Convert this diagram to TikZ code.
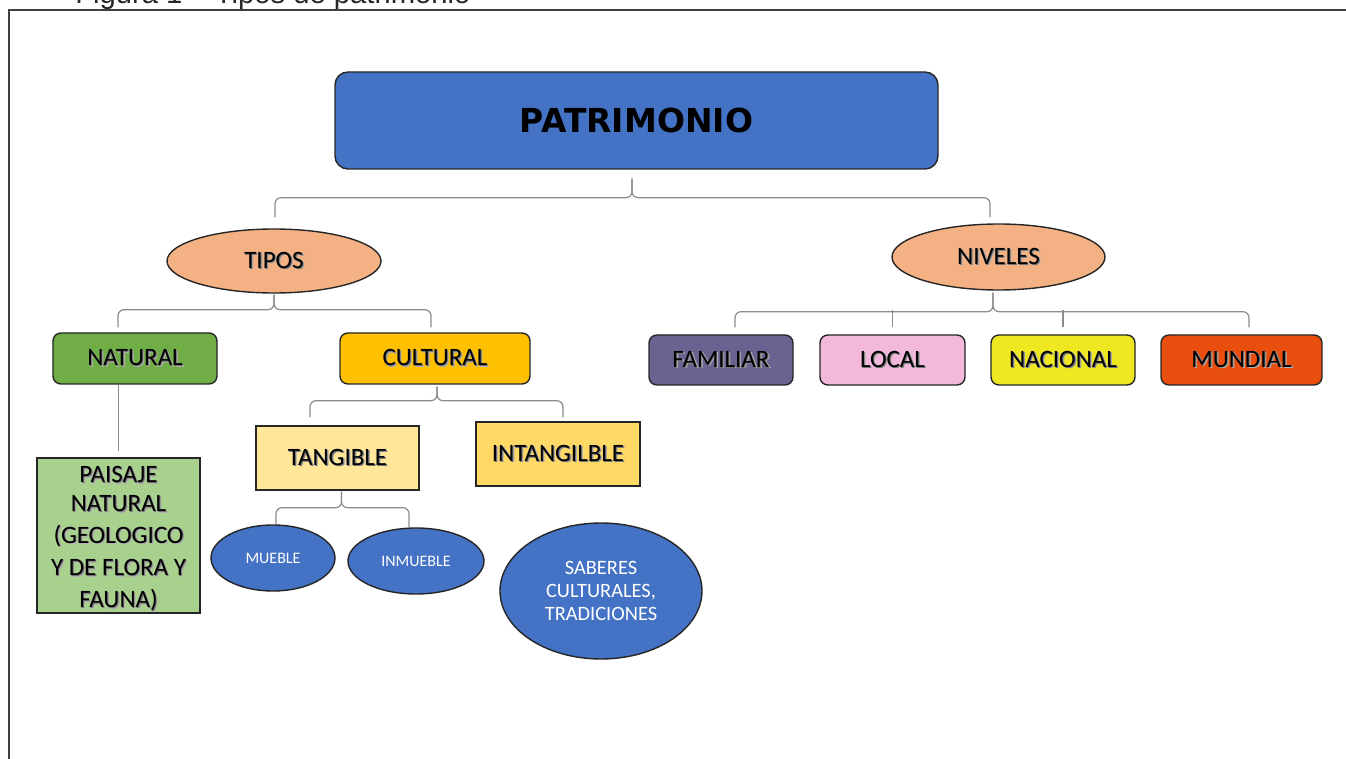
\documentclass[tikz,border=0pt]{standalone}
\usepackage{fontspec}
\setmainfont{Carlito}
\newfontfamily\titulofont{DejaVu Sans}
\newfontfamily\piefont{Liberation Sans}
\usepackage{tikz}
\usetikzlibrary{shapes}
\definecolor{azul}{HTML}{4472C4}
\definecolor{salmon}{HTML}{F4B183}
\definecolor{verde}{HTML}{70AD47}
\definecolor{verdeclaro}{HTML}{A9D18E}
\definecolor{naranja}{HTML}{FFC000}
\definecolor{amarillo1}{HTML}{FFE699}
\definecolor{amarillo2}{HTML}{FFD966}
\definecolor{morado}{HTML}{6A6391}
\definecolor{rosa}{HTML}{F2B9DC}
\definecolor{limon}{HTML}{EEE722}
\definecolor{rojizo}{HTML}{E84E0E}
\definecolor{borde}{HTML}{262626}
\definecolor{gris}{HTML}{8C8C8C}
\newcommand{\etiq}{\fontsize{12.5}{15.5}\selectfont}
\newcommand{\chica}{\fontsize{8}{10}\selectfont}
\newcommand{\media}{\fontsize{10.2}{11.5}\selectfont}
\newcommand{\sombra}[1]{\rlap{\kern0.9pt\raisebox{-0.9pt}{\textcolor{black!30}{#1}}}\rlap{\kern0.45pt\raisebox{-0.45pt}{\textcolor{black!55}{#1}}}#1}
\tikzstyle{caja}=[rectangle,rounded corners=4pt,draw=borde,line width=0.7pt,inner sep=0pt,font=\etiq]
\tikzstyle{cuadro}=[rectangle,draw=borde,line width=0.7pt,inner sep=0pt,font=\etiq,align=center]
\tikzstyle{elipse}=[ellipse,draw=borde,line width=0.7pt,inner sep=0pt]
\tikzstyle{llave}=[draw=gris,line width=0.6pt,rounded corners=3pt]
\tikzstyle{marco}=[draw=black!75,line width=0.8pt]

\begin{document}
\begin{tikzpicture}[x=0.5pt,y=-0.5pt]
    \useasboundingbox (0,0) rectangle (1346,759);
    \node[anchor=base west,inner sep=0pt,text=black!85,font=\piefont\fontsize{14.6}{17}\selectfont] at (75,4) (pie) {Figura 1 – Tipos de patrimonio};
    \draw[marco] (9,759) -- (9,10) -- (1346,10);
    \node[caja,rounded corners=6.5pt,fill=azul,minimum width=301.5pt,minimum height=48.5pt,font=\titulofont\bfseries\fontsize{16.5}{20}\selectfont] at (636.5,120.5) (patrimonio) {PATRIMONIO};
    \node[elipse,fill=salmon,minimum width=107pt,minimum height=32pt,font=\etiq] at (274,261) (tipos) {\sombra{TIPOS}};
    \node[elipse,fill=salmon,minimum width=106.5pt,minimum height=33pt,font=\etiq] at (998.5,257) (niveles) {\sombra{NIVELES}};
    \node[caja,fill=verde,minimum width=82pt,minimum height=25.5pt] at (135,358.5) (natural) {\sombra{NATURAL}};
    \node[caja,fill=naranja,minimum width=95pt,minimum height=25.5pt] at (435,358.5) (cultural) {\sombra{CULTURAL}};
    \node[cuadro,fill=verdeclaro,minimum width=81.5pt,minimum height=77.5pt,text depth=0pt] at (118.5,535.5) (paisaje) {\raisebox{-1.2pt}{\shortstack{\sombra{PAISAJE}\\[2.6pt]\sombra{NATURAL}\\[2.6pt]\sombra{(GEOLOGICO}\\[2.6pt]\sombra{Y DE FLORA Y}\\[2.6pt]\sombra{FAUNA)}}}};
    \node[cuadro,fill=amarillo1,minimum width=81.5pt,minimum height=32pt] at (337.5,458) (tangible) {\sombra{TANGIBLE}};
    \node[cuadro,fill=amarillo2,minimum width=82pt,minimum height=32pt] at (558,454) (intangible) {\sombra{INTANGILBLE}};
    \node[elipse,fill=azul,text=white,font=\chica,minimum width=62pt,minimum height=33pt] at (273,558) (mueble) {MUEBLE};
    \node[elipse,fill=azul,text=white,font=\chica,minimum width=68pt,minimum height=33pt] at (416,561) (inmueble) {INMUEBLE};
    \node[elipse,fill=azul,text=white,font=\media,align=center,minimum width=101pt,minimum height=68pt] at (601,591) (saberes) {SABERES\\CULTURALES,\\TRADICIONES};
    \node[caja,fill=morado,minimum width=72pt,minimum height=25pt] at (721,360) (familiar) {\sombra{FAMILIAR}};
    \node[caja,fill=rosa,minimum width=72.5pt,minimum height=25pt] at (892.5,360) (local) {\sombra{LOCAL}};
    \node[caja,fill=limon,minimum width=72pt,minimum height=25pt] at (1063,360) (nacional) {\sombra{NACIONAL}};
    \node[caja,fill=rojizo,minimum width=80.5pt,minimum height=25pt] at (1241.5,360) (mundial) {\sombra{MUNDIAL}};
    % llaves
    \draw[llave] ([xshift=0.5pt,yshift=5.5pt]tipos.north) |- ([xshift=-2.25pt,yshift=-14pt]patrimonio.south) -- ([xshift=-2.25pt,yshift=-4.5pt]patrimonio.south);
    \draw[llave] ([xshift=-4.25pt,yshift=3pt]niveles.north) |- ([xshift=-2.25pt,yshift=-14pt]patrimonio.south) -- ([xshift=-2.25pt,yshift=-4.5pt]patrimonio.south);
    \draw[llave] ([xshift=-8.5pt,yshift=2.5pt]natural.north) |- ([yshift=-8pt]tipos.south) -- ([yshift=-0.5pt]tipos.south);
    \draw[llave] ([xshift=-2pt,yshift=2.5pt]cultural.north) |- ([yshift=-8pt]tipos.south) -- ([yshift=-0.5pt]tipos.south);
    \draw[llave] ([xshift=-13.75pt,yshift=4pt]tangible.north) |- ([xshift=1pt,yshift=-8pt]cultural.south) -- ([xshift=1pt,yshift=-1pt]cultural.south);
    \draw[llave] ([xshift=2.5pt,yshift=2pt]intangible.north) |- ([xshift=1pt,yshift=-8pt]cultural.south) -- ([xshift=1pt,yshift=-1pt]cultural.south);
    \draw[llave] ([xshift=1.5pt]mueble.north) |- ([xshift=2pt,yshift=-8.5pt]tangible.south) -- ([xshift=2pt,yshift=-0.5pt]tangible.south);
    \draw[llave] ([xshift=-3.5pt]inmueble.north) |- ([xshift=2pt,yshift=-8.5pt]tangible.south) -- ([xshift=2pt,yshift=-0.5pt]tangible.south);
    \draw[llave] ([xshift=7pt,yshift=3.5pt]familiar.north) |- ([xshift=-2.75pt,yshift=-10.5pt]niveles.south) -- ([xshift=-2.75pt,yshift=-1pt]niveles.south);
    \draw[llave] ([xshift=3.75pt,yshift=3.5pt]mundial.north) |- ([xshift=-2.75pt,yshift=-10.5pt]niveles.south) -- ([xshift=-2.75pt,yshift=-1pt]niveles.south);
    \draw[llave] ([yshift=3.5pt]local.north) -- ++(0,-17);
    \draw[llave] ([yshift=3.5pt]nacional.north) -- ++(0,-17);
    \draw[llave] (paisaje.north |- natural.south) -- ([yshift=3pt]paisaje.north);
\end{tikzpicture}
\end{document}
